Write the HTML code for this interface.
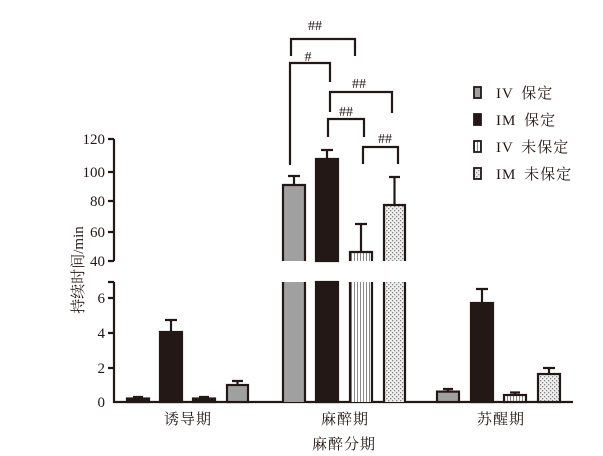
<!DOCTYPE html>
<html><head><meta charset="utf-8"><style>body{margin:0;background:#fff}svg{display:block}text{font-family:"Liberation Serif","Noto Serif CJK SC",serif;fill:#231815}</style></head><body>
<svg width="603" height="456" viewBox="0 0 603 456" xmlns="http://www.w3.org/2000/svg">
<defs>
<pattern id="st" width="3" height="4" patternUnits="userSpaceOnUse"><rect width="3" height="4" fill="#fff"/><rect width="1" height="4" fill="#888"/></pattern>
<pattern id="dt" width="4" height="4" patternUnits="userSpaceOnUse"><rect width="4" height="4" fill="#eee"/><rect width="1.3" height="1.3" fill="#888"/><rect x="2" y="2" width="1.3" height="1.3" fill="#888"/></pattern>
</defs>
<g stroke="#231815" stroke-width="2.2" fill="none">
<path d="M114 139V261M108 139H114M108 172H114M108 201H114M108 232H114M108 261H114"/>
<path d="M114 282V402H573M108 282H114M108 298H114M108 333H114M108 368H114"/>
</g>
<g font-size="15" text-anchor="end">
<text x="105" y="144">120</text><text x="105" y="177">100</text><text x="105" y="206">80</text><text x="105" y="237">60</text><text x="105" y="266">40</text>
<text x="105" y="303">6</text><text x="105" y="338">4</text><text x="105" y="373">2</text><text x="105" y="407">0</text>
</g>
<g stroke="#231815" stroke-width="2.2">
<!-- group1 -->
<rect x="127" y="398.5" width="22" height="3.5" fill="#231815"/><path d="M138 397V398.5M133 397H143"/>
<rect x="160" y="332" width="22" height="70" fill="#231815"/><path d="M171 320V332M165 320H177"/>
<rect x="193" y="398.5" width="22" height="3.5" fill="#231815"/><path d="M204 397V398.5M199 397H209"/>
<rect x="227" y="385" width="21" height="17" fill="#a0a0a0"/><path d="M237.5 381V385M232 381H243"/>
<!-- group2 -->
<path d="M283 261V185H305V261Z" fill="#a0a0a0" stroke="none"/><path d="M283 261V185H305V261" fill="none"/>
<rect x="283" y="282" width="22" height="120" fill="#a0a0a0" stroke="none"/><path d="M283 282V402M305 282V402"/><path d="M294 176V185M288 176H300"/>
<path d="M316 261V159H338V261Z" fill="#231815"/><rect x="316" y="282" width="22" height="120" fill="#231815"/><path d="M327 150V159M321 150H333"/>
<path d="M350 261V252H372V261Z" fill="url(#st)" stroke="none"/><path d="M350 261V252H372V261" fill="none"/>
<rect x="350" y="282" width="22" height="120" fill="url(#st)" stroke="none"/><path d="M350 282V402M372 282V402"/><path d="M361 224V252M355 224H367"/>
<path d="M384 261V205H405V261Z" fill="url(#dt)" stroke="none"/><path d="M384 261V205H405V261" fill="none"/>
<rect x="384" y="282" width="21" height="120" fill="url(#dt)" stroke="none"/><path d="M384 282V402M405 282V402"/><path d="M394.5 177V205M389 177H400"/>
<!-- group3 -->
<rect x="437" y="391.6" width="22" height="10.4" fill="#a0a0a0"/><path d="M448 389V391.6M443 389H453"/>
<rect x="471" y="303" width="22" height="99" fill="#231815"/><path d="M482 289V303M476 289H488"/>
<rect x="504" y="395" width="22" height="7" fill="url(#st)"/><path d="M515 392.5V395M510 392.5H520"/>
<rect x="538" y="374" width="22" height="28" fill="url(#dt)"/><path d="M549 368V374M543 368H555"/>
</g>
<g stroke="#231815" stroke-width="2.2" fill="none">
<path d="M291 56V39H355V56"/>
<path d="M290 165V63H330V82"/>
<path d="M330 112V92H392V113"/>
<path d="M328 137V119H364V137"/>
<path d="M363 164V147H398V164"/>
</g>
<g font-size="14" text-anchor="middle">
<text x="315" y="30">##</text><text x="308" y="61">#</text><text x="359" y="88">##</text><text x="346" y="116">##</text><text x="385" y="143">##</text>
</g>
<g stroke="#231815" stroke-width="1.8">
<rect x="474" y="87" width="7" height="11" fill="#a0a0a0"/>
<rect x="474" y="114" width="7" height="11" fill="#231815"/>
<rect x="474" y="141" width="7" height="11" fill="url(#st)"/>
<rect x="474" y="168" width="7" height="11" fill="url(#dt)"/>
</g>
<g font-size="15" word-spacing="3" letter-spacing="1">
<text x="496" y="98">IV 保定</text><text x="496" y="125">IM 保定</text><text x="496" y="152">IV 未保定</text><text x="496" y="179">IM 未保定</text>
</g>
<g font-size="15" text-anchor="middle" letter-spacing="1">
<text x="188" y="424">诱导期</text><text x="345" y="424">麻醉期</text><text x="501" y="424">苏醒期</text>
<text x="344" y="449">麻醉分期</text>
<text transform="translate(83,270) rotate(-90)" font-size="15" letter-spacing="0">持续时间/min</text>
</g>
</svg>
</body></html>
